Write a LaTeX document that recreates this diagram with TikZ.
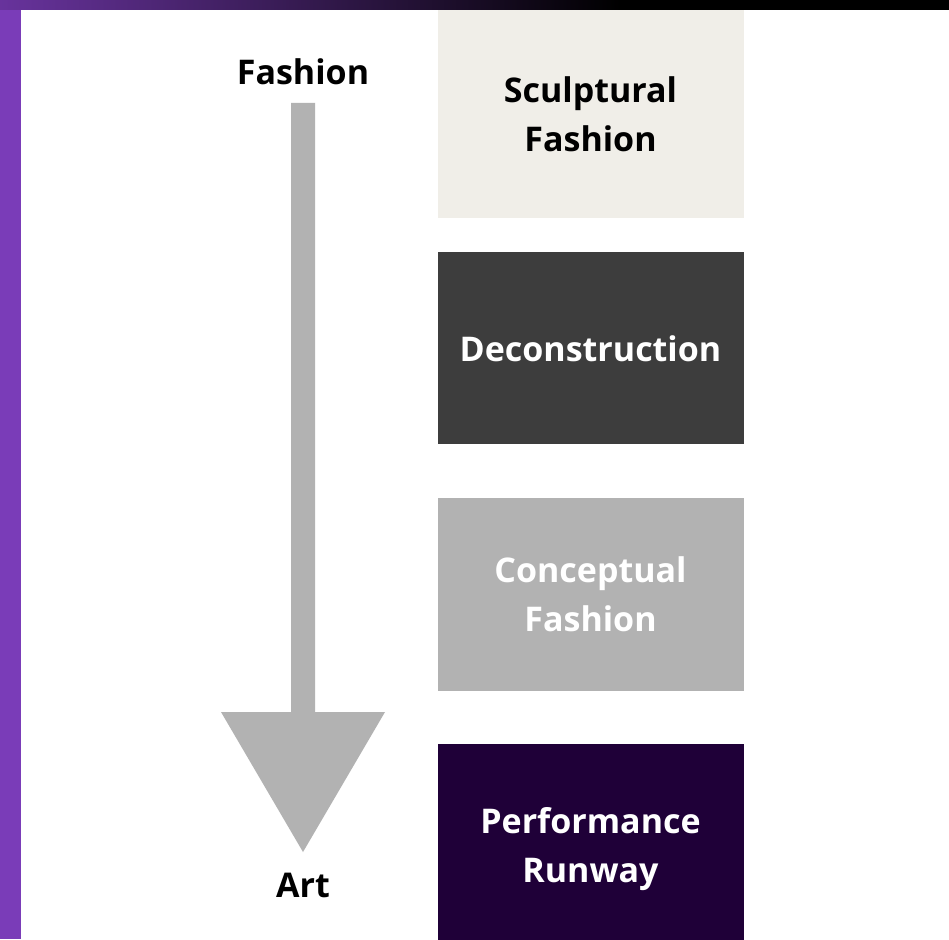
\documentclass[tikz,border=0pt]{standalone}
\usepackage{fontspec}
\setmainfont{Open Sans}
\usetikzlibrary{positioning}
\definecolor{lilac}{HTML}{7A3CB8}
\definecolor{stone}{HTML}{F0EEE8}
\definecolor{coal}{HTML}{3D3D3D}
\definecolor{ash}{HTML}{B2B2B2}
\definecolor{plum}{HTML}{1F0038}

\begin{document}
\begin{tikzpicture}[x=1pt,y=-1pt,
  tag/.style={font=\bfseries\fontsize{34}{49}\selectfont,align=center},
  panel/.style={tag,minimum width=306pt,text width=290pt,inner sep=0pt}]
\useasboundingbox (0,0) rectangle (949,939);
\fill[white] (0,0) rectangle (949,939);
\fill[lilac] (0,0) rectangle (21,939);
\shade[left color=lilac!85!black,right color=black] (0,0) rectangle (620,10);
\fill[black] (620,0) rectangle (949,10);
% the four stages
\node[panel,fill=stone,minimum height=208pt] (sculpt) at (590.5,114) {Sculptural\\Fashion};
\node[panel,fill=coal,text=white,minimum height=192pt,below=34pt of sculpt] (decon) {Deconstruction};
\node[panel,fill=ash,text=white,minimum height=193pt,below=53pt of decon] (concept) {Conceptual\\Fashion};
\node[panel,fill=plum,text=white,minimum height=210pt,below=53pt of concept] (runway) {Performance\\Runway};
% fashion -> art
\node[tag,anchor=base] (fashion) at (303,85) {Fashion};
\node[tag,anchor=base] (art) at (303,897) {Art};
\coordinate[below=18pt of fashion.base] (shaft);
\coordinate[above=45pt of art.base] (tip);
\fill[ash] (shaft) ++(-12,0) -- ++(0,609) -- ++(-70,0) -- (tip) -- ++(82,-140) -- ++(-70,0) -- ++(0,-609) -- cycle;
\end{tikzpicture}
\end{document}
